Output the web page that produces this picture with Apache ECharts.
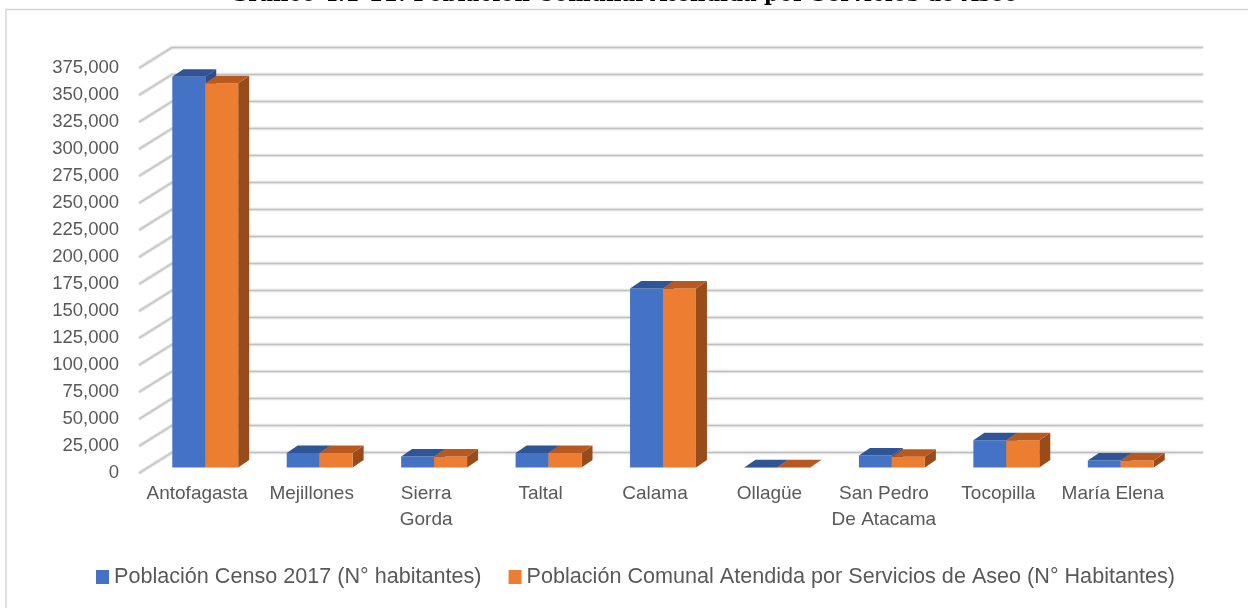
<!DOCTYPE html>
<html>
<head>
<meta charset="utf-8">
<script src="https://cdn.jsdelivr.net/npm/echarts@6/dist/echarts.min.js"></script>
<style>
html,body{margin:0;padding:0;background:#fff;}
#chart{width:1248px;height:608px;}
</style>
</head>
<body>
<div id="chart"></div>
<script>
// ---- data ----
const categories = ['Antofagasta', 'Mejillones', 'Sierra\nGorda', 'Taltal', 'Calama', 'Ollagüe', 'San Pedro\nDe Atacama', 'Tocopilla', 'María Elena'];
const censo2017 = [361873, 13467, 10186, 13317, 165731, 321, 10996, 25186, 6457];
const atendida = [355700, 13467, 10186, 13317, 165731, 321, 10000, 25186, 6457];
const yTicks = [0, 25000, 50000, 75000, 100000, 125000, 150000, 175000, 200000, 225000, 250000, 275000, 300000, 325000, 350000, 375000];
const seriesNames = ['Población Censo 2017 (N° habitantes)', 'Población Comunal Atendida por Servicios de Aseo (N° Habitantes)'];
const titleText = 'Gráfico 4.1-11: Población Comunal Atendida por Servicios de Aseo';

// ---- projection / style parameters ----
const WALL = { dx: 32, dy: -20 };     // full depth of the 3D box
const BAR_OFF = { dx: 8, dy: -5 };    // bar front plane relative to box front
const BAR_DEPTH = { dx: 11, dy: -7.5 };
const BAR_FRAC = 0.288;
const COLORS = [
  { front: '#4472C4', top: '#2F5597', side: '#2B4F8C' },
  { front: '#ED7D31', top: '#B85A1F', side: '#9A4B1A' }
];

const chart = echarts.init(document.getElementById('chart'));

function wallRenderer(params, api) {
  const v = api.value(1);
  const cs = params.coordSys;
  const y = api.coord([0, v])[1];
  const x0 = cs.x, x1 = cs.x + cs.width;
  const bx = x0 + WALL.dx, by = y + WALL.dy;
  const ex = x1 + WALL.dx;
  return {
    type: 'group',
    children: [
      { type: 'polyline', shape: { points: [[x0, y], [bx, by], [ex, by]] },
        style: { stroke: '#e0e0e0', lineWidth: 3.5, fill: null, lineJoin: 'round', lineCap: 'round' } },
      { type: 'polyline', shape: { points: [[x0, y], [bx, by], [ex, by]] },
        style: { stroke: '#c2c2c2', lineWidth: 1.2, fill: null, lineJoin: 'round', lineCap: 'round' } }
    ]
  };
}

function barRenderer(slot) {
  const c = COLORS[slot];
  return function (params, api) {
    const i = api.value(0), v = api.value(1);
    const base = api.coord([i, 0]);
    const top = api.coord([i, v]);
    const catW = api.size([1, 0])[0];
    const bw = catW * BAR_FRAC;
    const cx = base[0] + BAR_OFF.dx;
    const x = slot === 0 ? cx - bw : cx;
    const y0 = base[1] + BAR_OFF.dy;
    const y1 = top[1] + BAR_OFF.dy;
    const dx = BAR_DEPTH.dx, dy = BAR_DEPTH.dy;
    return {
      type: 'group',
      children: [
        { type: 'polygon', shape: { points: [[x + bw, y1], [x + bw + dx, y1 + dy], [x + bw + dx, y0 + dy], [x + bw, y0]] },
          style: { fill: c.side } },
        { type: 'rect', shape: { x: x, y: y1, width: bw, height: Math.max(y0 - y1, 0.6) },
          style: { fill: c.front } },
        { type: 'polygon', shape: { points: [[x, y1], [x + bw, y1], [x + bw + dx, y1 + dy], [x + dx, y1 + dy]] },
          style: { fill: c.top } }
      ]
    };
  };
}

const option = {
  animation: false,
  backgroundColor: '#ffffff',
  graphic: [
    { type: 'rect', z: -10, shape: { x: 6, y: 9.5, width: 1300, height: 700 },
      style: { fill: null, stroke: '#d6d6d6', lineWidth: 1.5 } },
    { type: 'text', left: 'center', top: -15,
      style: { text: titleText, font: 'bold 21.2px "DejaVu Serif"', fill: '#000000' } }
  ],
  legend: {
    data: seriesNames,
    bottom: 15,
    left: 91,
    icon: 'rect',
    itemWidth: 13,
    itemHeight: 14,
    itemGap: 27,
    textStyle: { fontFamily: 'Liberation Sans', fontSize: 21.6, color: '#595959', padding: [0, 0, 0, 0] }
  },
  grid: { left: 140, right: 78, top: 67.5, bottom: 135.5, containLabel: false },
  xAxis: {
    type: 'category',
    data: categories,
    axisLine: { show: false },
    axisTick: { show: false },
    axisLabel: { color: '#595959', fontFamily: 'Liberation Sans', fontSize: 19, lineHeight: 25.5, margin: 9, interval: 0 }
  },
  yAxis: {
    type: 'value',
    min: 0,
    max: 375000,
    interval: 25000,
    axisLine: { show: false },
    axisTick: { show: false },
    splitLine: { show: false },
    axisLabel: {
      color: '#595959', fontFamily: 'Liberation Sans', fontSize: 18.5, margin: 21,
      formatter: function (v) { return v === 0 ? '0' : v.toLocaleString('en-US'); }
    }
  },
  series: [
    {
      type: 'custom', name: 'walls', z: 1, silent: true,
      renderItem: wallRenderer,
      encode: { x: 0, y: 1 },
      data: yTicks.map(function (v) { return [0, v]; })
    },
    {
      type: 'custom', name: seriesNames[0], z: 2,
      itemStyle: { color: COLORS[0].front },
      renderItem: barRenderer(0),
      encode: { x: 0, y: 1 },
      data: censo2017.map(function (v, i) { return [i, v]; })
    },
    {
      type: 'custom', name: seriesNames[1], z: 3,
      itemStyle: { color: COLORS[1].front },
      renderItem: barRenderer(1),
      encode: { x: 0, y: 1 },
      data: atendida.map(function (v, i) { return [i, v]; })
    }
  ]
};
chart.setOption(option);
</script>
</body>
</html>
